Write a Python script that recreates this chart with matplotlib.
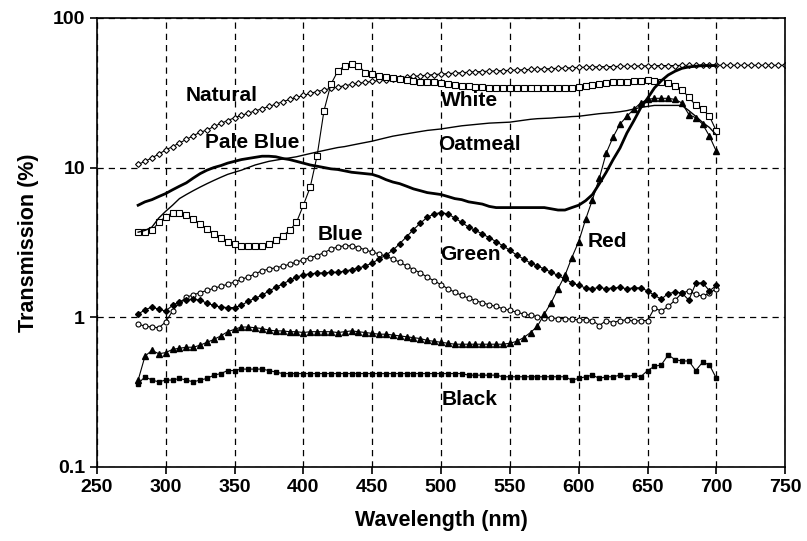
import numpy as np
import matplotlib
matplotlib.use("Agg")
import matplotlib.pyplot as plt

plt.rcParams.update({"font.family": "Liberation Sans", "font.weight": "bold"})

# wavelength grid (nm), 5 nm steps
wl = np.arange(280, 705, 5)
wl_natural = np.arange(280, 755, 5)

natural = [10.5, 11.0, 11.6, 12.3, 13.1, 13.8, 14.6, 15.4, 16.3, 17.2,
           17.8, 18.8, 19.7, 20.6, 21.5, 22.3, 23.1, 23.9, 24.7, 25.6,
           26.5, 27.5, 28.5, 29.4, 30.3, 31.3, 32.2, 33.0, 33.8, 34.5,
           35.2, 35.9, 36.5, 37.1, 37.6, 38.2, 38.7, 39.2, 39.7, 40.2,
           40.6, 41.0, 41.4, 41.8, 42.1, 42.4, 42.7, 43.0, 43.3, 43.6,
           43.8, 44.0, 44.2, 44.4, 44.6, 44.8, 45.0, 45.2, 45.4, 45.6,
           45.8, 46.0, 46.2, 46.4, 46.6, 46.8, 47.0, 47.1, 47.2, 47.3,
           47.4, 47.5, 47.6, 47.7, 47.8, 47.9, 48.0, 48.0, 48.0, 48.1,
           48.1, 48.1, 48.2, 48.2, 48.2, 48.2, 48.2, 48.2, 48.2, 48.2,
           48.2, 48.2, 48.2, 48.2, 48.2]

white = [3.7, 3.7, 3.8, 4.3, 4.7, 5.0, 5.0, 4.8, 4.5, 4.2,
         3.9, 3.6, 3.4, 3.2, 3.1, 3.0, 3.0, 3.0, 3.0, 3.1,
         3.3, 3.5, 3.8, 4.3, 5.6, 7.4, 12.0, 24.0, 36.0, 44.0,
         48.0, 49.0, 48.0, 43.0, 42.0, 41.0, 40.0, 39.5, 39.0, 38.5,
         38.0, 37.5, 37.0, 37.0, 36.5, 36.0, 35.5, 35.0, 35.0, 34.5,
         34.5, 34.0, 34.0, 34.0, 34.0, 34.0, 34.0, 34.0, 34.0, 34.0,
         34.0, 34.0, 34.0, 34.0, 34.5, 35.0, 35.5, 36.0, 36.5, 37.0,
         37.5, 37.5, 38.0, 38.0, 38.5, 38.0, 37.0, 36.5, 35.0, 33.0,
         29.5, 26.0, 24.5, 22.0, 17.5]

oatmeal = [3.7, 3.8, 4.0, 4.6, 5.1, 5.6, 6.2, 6.6, 7.0, 7.4,
           7.8, 8.2, 8.6, 9.0, 9.3, 9.6, 10.0, 10.4, 10.7, 11.0,
           11.2, 11.4, 11.6, 11.8, 12.1, 12.4, 12.7, 13.0, 13.3, 13.6,
           13.8, 14.1, 14.4, 14.7, 15.0, 15.4, 15.8, 16.2, 16.5, 16.8,
           17.1, 17.4, 17.7, 17.9, 18.1, 18.4, 18.7, 19.0, 19.2, 19.4,
           19.6, 19.8, 19.9, 20.0, 20.1, 20.4, 20.7, 21.0, 21.2, 21.3,
           21.4, 21.6, 21.7, 21.9, 22.0, 22.3, 22.6, 22.9, 23.1, 23.3,
           23.6, 24.0, 24.6, 25.2, 25.6, 26.0, 26.0, 26.0, 26.0, 26.0,
           24.0, 22.0, 20.0, 18.5, 16.5]

pale_blue = [5.6, 5.9, 6.1, 6.4, 6.7, 7.1, 7.5, 7.9, 8.5, 9.1,
             9.6, 10.0, 10.3, 10.7, 11.0, 11.3, 11.5, 11.7, 11.9, 11.9,
             11.8, 11.5, 11.3, 11.0, 10.7, 10.4, 10.2, 10.0, 9.8, 9.7,
             9.5, 9.3, 9.2, 9.1, 9.0, 8.7, 8.3, 8.0, 7.8, 7.5,
             7.2, 7.0, 6.8, 6.7, 6.6, 6.4, 6.2, 6.1, 5.9, 5.8,
             5.7, 5.5, 5.4, 5.4, 5.4, 5.4, 5.4, 5.4, 5.4, 5.4,
             5.3, 5.2, 5.2, 5.4, 5.6, 6.0, 6.6, 7.8, 9.3, 11.3,
             13.5, 17.0, 20.5, 25.0, 29.0, 34.0, 38.0, 41.5, 44.0, 46.0,
             47.0, 47.5, 48.0, 48.0, 48.0]

blue = [0.90, 0.87, 0.86, 0.85, 0.93, 1.10, 1.25, 1.36, 1.41, 1.46,
        1.51, 1.56, 1.61, 1.66, 1.72, 1.79, 1.86, 1.95, 2.04, 2.10,
        2.14, 2.19, 2.26, 2.33, 2.42, 2.50, 2.58, 2.70, 2.85, 2.95,
        3.00, 3.00, 2.92, 2.82, 2.72, 2.65, 2.55, 2.45, 2.33, 2.20,
        2.08, 1.98, 1.85, 1.75, 1.65, 1.55, 1.47, 1.40, 1.34, 1.29,
        1.25, 1.21, 1.18, 1.14, 1.11, 1.08, 1.05, 1.03, 1.01, 0.99,
        0.99, 0.98, 0.98, 0.97, 0.96, 0.96, 0.95, 0.88, 0.95, 0.92,
        0.95, 0.96, 0.94, 0.95, 0.95, 1.15, 1.10, 1.18, 1.30, 1.45,
        1.50, 1.42, 1.38, 1.45, 1.55]

green = [1.05, 1.12, 1.17, 1.13, 1.10, 1.20, 1.27, 1.30, 1.32, 1.30,
         1.24, 1.20, 1.17, 1.16, 1.16, 1.20, 1.28, 1.34, 1.40, 1.50,
         1.58, 1.67, 1.76, 1.85, 1.92, 1.95, 1.97, 1.98, 1.99, 2.00,
         2.03, 2.08, 2.13, 2.20, 2.30, 2.45, 2.60, 2.80, 3.10, 3.45,
         3.85, 4.25, 4.65, 4.90, 5.00, 4.90, 4.60, 4.30, 4.00, 3.80,
         3.60, 3.40, 3.20, 3.00, 2.80, 2.60, 2.45, 2.30, 2.20, 2.10,
         2.00, 1.90, 1.80, 1.70, 1.63, 1.57, 1.55, 1.58, 1.55, 1.57,
         1.58, 1.55, 1.57, 1.57, 1.50, 1.40, 1.32, 1.44, 1.47, 1.45,
         1.30, 1.68, 1.70, 1.50, 1.63]

red = [0.38, 0.55, 0.60, 0.57, 0.58, 0.61, 0.62, 0.63, 0.63, 0.65,
       0.68, 0.71, 0.75, 0.80, 0.83, 0.86, 0.86, 0.85, 0.84, 0.82,
       0.81, 0.81, 0.80, 0.80, 0.79, 0.80, 0.80, 0.80, 0.80, 0.79,
       0.80, 0.81, 0.80, 0.79, 0.78, 0.77, 0.77, 0.76, 0.75, 0.74,
       0.73, 0.72, 0.70, 0.69, 0.68, 0.67, 0.66, 0.66, 0.66, 0.66,
       0.66, 0.66, 0.66, 0.66, 0.67, 0.69, 0.73, 0.79, 0.87, 1.05,
       1.25, 1.55, 1.90, 2.50, 3.20, 4.50, 6.10, 8.50, 12.5, 16.0,
       19.5, 22.0, 24.5, 27.0, 28.5, 29.0, 29.0, 29.0, 28.5, 27.0,
       22.6, 21.5, 19.5, 16.2, 12.8]

black = [0.36, 0.40, 0.38, 0.37, 0.38, 0.38, 0.39, 0.38, 0.37, 0.38,
         0.39, 0.41, 0.42, 0.44, 0.44, 0.45, 0.45, 0.45, 0.45, 0.44,
         0.43, 0.42, 0.42, 0.42, 0.42, 0.42, 0.42, 0.42, 0.42, 0.42,
         0.42, 0.42, 0.42, 0.42, 0.42, 0.42, 0.42, 0.42, 0.42, 0.42,
         0.42, 0.42, 0.42, 0.42, 0.42, 0.42, 0.42, 0.42, 0.41, 0.41,
         0.41, 0.41, 0.41, 0.40, 0.40, 0.40, 0.40, 0.40, 0.40, 0.40,
         0.40, 0.40, 0.40, 0.38, 0.39, 0.40, 0.41, 0.39, 0.40, 0.40,
         0.41, 0.40, 0.41, 0.40, 0.44, 0.47, 0.48, 0.56, 0.52, 0.51,
         0.51, 0.44, 0.50, 0.48, 0.39]

# label text and where it sits (nm, %)
labels = ["Natural", "White", "Pale Blue", "Oatmeal", "Blue", "Green", "Red", "Black"]
label_x = [341, 521, 363, 528, 427, 521, 621, 521]
label_y = [30.3, 28.1, 14.7, 14.3, 3.56, 2.62, 3.2, 0.283]

fig = plt.figure(figsize=(8.07, 5.41), dpi=100)
ax = fig.add_axes([0.120, 0.137, 0.853, 0.830])

k = "black"
ax.plot(wl_natural, natural, color=k, lw=0.8, marker="D", ms=3.0, mfc="white", mec=k, mew=0.8)
ax.plot(wl, white, color=k, lw=0.8, marker="s", ms=3.8, mfc="white", mec=k, mew=0.8)
ax.plot(wl, oatmeal, color=k, lw=1.0)
ax.plot(wl, pale_blue, color=k, lw=2.0)
ax.plot(wl, blue, color=k, lw=0.8, marker="o", ms=3.6, mfc="white", mec=k, mew=0.8)
ax.plot(wl, green, color=k, lw=0.8, marker="D", ms=3.0, mfc=k, mec=k)
ax.plot(wl, red, color=k, lw=0.8, marker="^", ms=3.8, mfc=k, mec=k)
ax.plot(wl, black, color=k, lw=0.8, marker="s", ms=3.4, mfc=k, mec=k)

for txt, x, y in zip(labels, label_x, label_y):
    ax.text(x, y, txt, ha="center", va="center", fontsize=15, fontweight="bold")

ax.set_yscale("log")
ax.set_xlim(250, 750)
ax.set_ylim(0.1, 100)
ax.set_xticks(np.arange(250, 800, 50))
ax.set_yticks([0.1, 1, 10, 100])
ax.set_yticklabels(["0.1", "1", "10", "100"])
ax.yaxis.set_minor_locator(matplotlib.ticker.NullLocator())
ax.tick_params(axis="both", labelsize=14, length=5, width=1.2, direction="out")
for t in ax.get_xticklabels() + ax.get_yticklabels():
    t.set_fontweight("bold")

ax.grid(True, which="major", color="black", linestyle=(0, (5, 4)), lw=0.9)
for s in ax.spines.values():
    s.set_linewidth(1.2)

ax.set_xlabel("Wavelength (nm)", fontsize=15.5, fontweight="bold", labelpad=10)
ax.set_ylabel("Transmission (%)", fontsize=15.5, fontweight="bold", labelpad=10)

fig.savefig("out.png", dpi=100)
